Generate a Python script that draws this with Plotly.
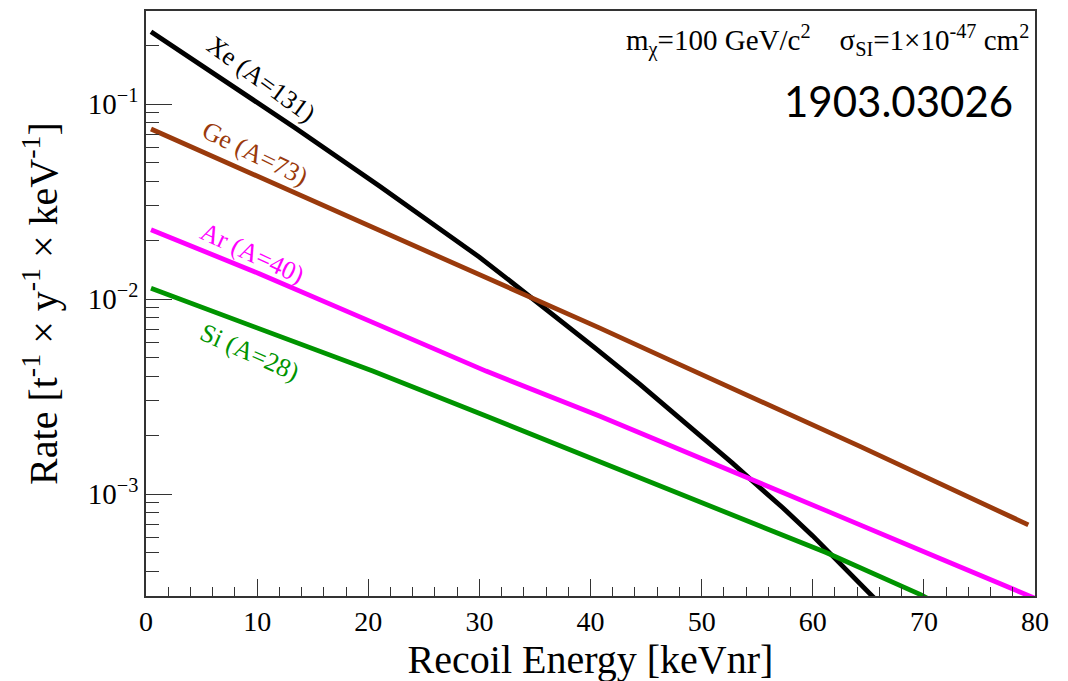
import plotly.graph_objects as go

# Recoil energy [keVnr] and rate [t^-1 y^-1 keV^-1]
xe_E = [0.45, 5.4, 13.5, 21.0, 27.0, 30.0, 32.7, 34.5, 37.6, 40.4, 44.4, 47.4, 50.4, 52.8, 54.9, 57.3, 60.0, 62.7, 65.2, 66.0]
xe_R = [0.2344, 0.1521, 0.0750, 0.0380, 0.02188, 0.01641, 0.01245, 0.01035, 0.00750, 0.00562, 0.00367, 0.00263,
        0.00188, 0.001436, 0.001122, 8.51e-4, 6.10e-4, 4.27e-4, 3.05e-4, 2.75e-4]

ge_E = [0.45, 7.5, 18.0, 27.0, 34.0, 40.8, 47.0, 55.0, 64.2, 79.4]
ge_R = [0.0745, 0.0495, 0.0269, 0.01603, 0.01059, 0.00711, 0.00490, 0.00305, 0.00176, 6.95e-4]

ar_E = [0.45, 10.2, 20.4, 30.6, 40.8, 51.0, 61.2, 71.4, 78.8, 80.0]
ar_R = [0.02265, 0.01349, 0.00759, 0.00427, 0.00251, 0.001445, 8.22e-4, 4.68e-4, 3.11e-4, 2.92e-4]

si_E = [0.45, 10.2, 20.4, 30.6, 40.8, 51.0, 61.2, 69.7, 70.4]
si_R = [0.01135, 0.00708, 0.00427, 0.00251, 0.001462, 8.61e-4, 5.01e-4, 3.05e-4, 2.9e-4]

series_names = ["Xe (A=131)", "Ge (A=73)", "Ar (A=40)", "Si (A=28)"]
series_colors = ["#000000", "#9a3a0c", "#ff00ff", "#009400"]

x_ticks = [0, 10, 20, 30, 40, 50, 60, 70, 80]
y_tickvals = [1e-3, 1e-2, 1e-1]
y_ticktext = ["10<sup>\u22123</sup>", "10<sup>\u22122</sup>", "10<sup>\u22121</sup>"]
y_minor = [m * 10.0 ** e for e in range(-4, 0) for m in range(2, 10)]

serif = "Liberation Serif, Times New Roman, serif"

fig = go.Figure()
for E, R, name, col in zip([xe_E, ge_E, ar_E, si_E], [xe_R, ge_R, ar_R, si_R], series_names, series_colors):
    fig.add_trace(go.Scatter(x=E, y=R, mode="lines", name=name,
                             line=dict(color=col, width=4.8),
                             showlegend=False))

# curve labels (x in keV, y in log10 units)
label_pos = [(10.4, -0.872, 36), (9.8, -1.255, 26), (9.6, -1.765, 25), (9.35, -2.276, 24)]
for (lx, ly, ang), name, col in zip(label_pos, series_names, series_colors):
    fig.add_annotation(x=lx, y=ly, xref="x", yref="y", text=name, showarrow=False,
                       textangle=ang, font=dict(family=serif, size=26, color=col))

fig.add_annotation(xref="paper", yref="paper", x=0.995, y=0.988, xanchor="right", yanchor="top",
                   text="m<sub>\u03c7</sub>=100 GeV/c<sup>2</sup>&nbsp;&nbsp;&nbsp;&nbsp;\u03c3<sub>SI</sub>=1\u00d710<sup>-47</sup> cm<sup>2</sup>",
                   showarrow=False, font=dict(family=serif, size=29, color="black"))
fig.add_annotation(xref="paper", yref="paper", x=0.977, y=0.893, xanchor="right", yanchor="top",
                   text="1903.03026", showarrow=False,
                   font=dict(family="Lato, Liberation Sans, sans-serif", size=42, color="black"))

fig.update_xaxes(range=[0, 80], tickvals=x_ticks, ticks="inside", ticklen=17, tickwidth=1.3,
                 tickcolor="#333", showline=True, linecolor="#333", linewidth=1.5, mirror=True,
                 showgrid=False, zeroline=False,
                 minor=dict(ticks="inside", dtick=2, ticklen=9, tickwidth=1.3, tickcolor="#333", showgrid=False),
                 tickfont=dict(family=serif, size=28, color="black"),
                 title=dict(text="Recoil Energy [keVnr]", font=dict(family=serif, size=40, color="black"),
                            standoff=4))
fig.update_yaxes(type="log", range=[-3.523, -0.523], tickvals=y_tickvals, ticktext=y_ticktext,
                 ticks="inside", ticklen=26, tickwidth=1.3, tickcolor="#333",
                 showline=True, linecolor="#333", linewidth=1.5, mirror=True,
                 showgrid=False, zeroline=False,
                 minor=dict(ticks="inside", tickvals=y_minor, ticklen=13, tickwidth=1.3,
                            tickcolor="#333", showgrid=False),
                 tickfont=dict(family=serif, size=29, color="black"),
                 title=dict(text="Rate [t<sup>-1</sup> \u00d7 y<sup>-1</sup> \u00d7 keV<sup>-1</sup>]",
                            font=dict(family=serif, size=40, color="black"), standoff=18))

fig.update_layout(width=1060, height=674, margin=dict(l=138, r=33, t=1, b=86),
                  plot_bgcolor="white", paper_bgcolor="white")

fig.write_html("out.html")
